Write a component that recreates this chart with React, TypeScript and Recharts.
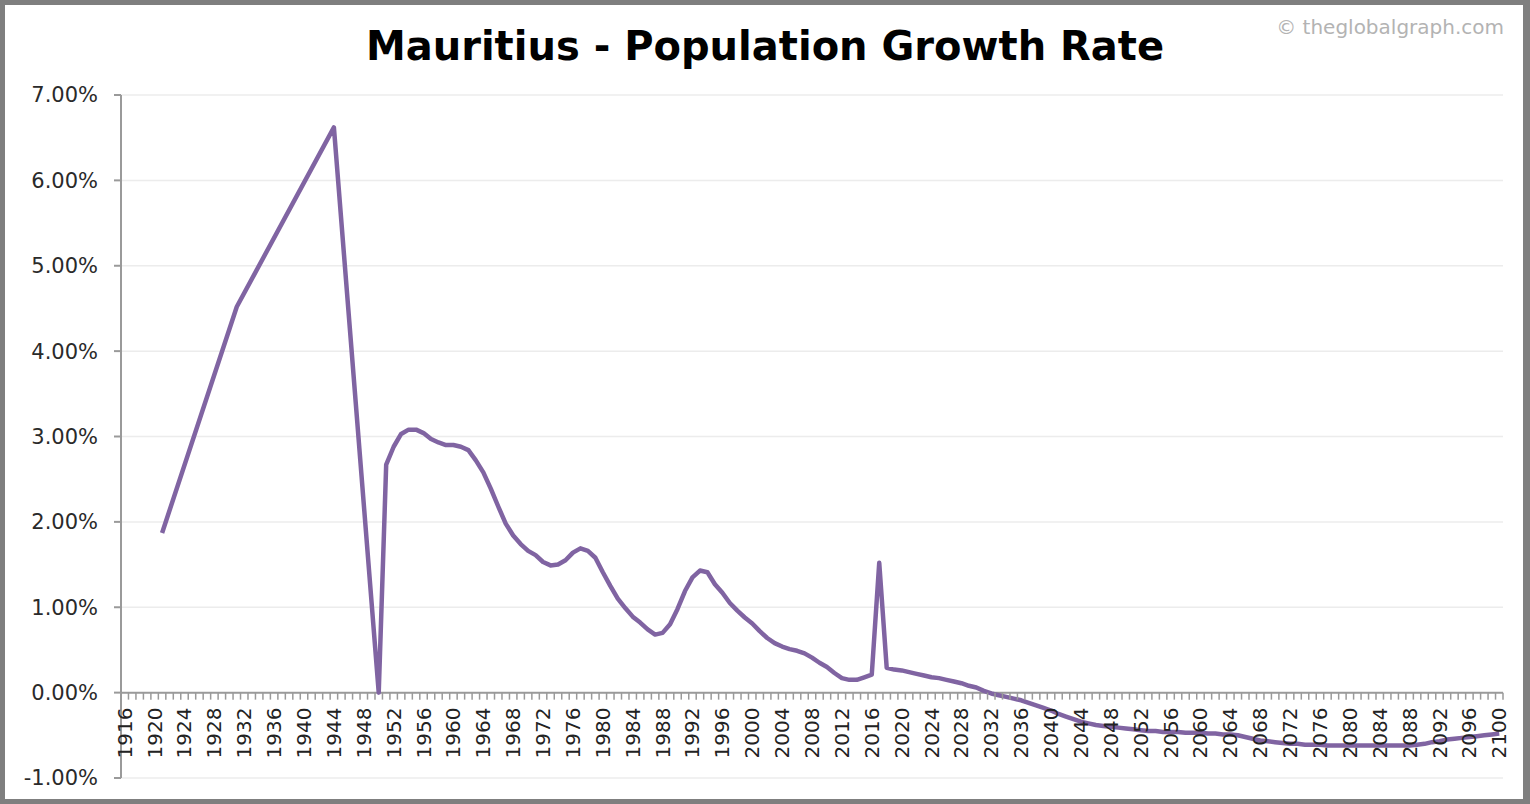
import React from 'react';
import { CartesianGrid, Line, LineChart, ReferenceLine, XAxis, YAxis } from 'recharts';

const W = 1530;
const H = 804;
const MARGIN = { top: 95, right: 27, bottom: 0, left: 0 };
const Y_AXIS_W = 121;
const X_AXIS_H = 26;

// sparse early census-style points
const earlyYears = [1921, 1931, 1944, 1950];
const earlyRates = [1.87, 4.52, 6.62, 0.0];

// yearly values from 1951 to 2100
const annualStart = 1951;
const annualRates = [
  2.67, 2.88, 3.03, 3.08, 3.08, 3.04, 2.97, 2.93, 2.9, 2.9,
  2.88, 2.84, 2.72, 2.58, 2.39, 2.18, 1.98, 1.84, 1.74, 1.66,
  1.61, 1.53, 1.49, 1.5, 1.55, 1.64, 1.69, 1.66, 1.58, 1.41,
  1.25, 1.1, 0.99, 0.89, 0.82, 0.74, 0.68, 0.7, 0.8, 0.98,
  1.19, 1.35, 1.43, 1.41, 1.27, 1.17, 1.05, 0.96, 0.88, 0.81,
  0.72, 0.64, 0.58, 0.54, 0.51, 0.49, 0.46, 0.41, 0.35, 0.3,
  0.23, 0.17, 0.15, 0.15, 0.18, 0.21, 1.52, 0.29, 0.27, 0.26,
  0.24, 0.22, 0.2, 0.18, 0.17, 0.15, 0.13, 0.11, 0.08, 0.06,
  0.02, -0.01, -0.03, -0.05, -0.07, -0.09, -0.12, -0.15, -0.18, -0.21,
  -0.25, -0.28, -0.31, -0.34, -0.36, -0.38, -0.39, -0.4, -0.41, -0.42,
  -0.43, -0.44, -0.45, -0.45, -0.46, -0.46, -0.46, -0.47, -0.47, -0.47,
  -0.48, -0.48, -0.49, -0.49, -0.5, -0.52, -0.54, -0.56, -0.57, -0.58,
  -0.59, -0.6, -0.6, -0.61, -0.61, -0.61, -0.62, -0.62, -0.62, -0.62,
  -0.62, -0.62, -0.62, -0.62, -0.62, -0.62, -0.62, -0.62, -0.61, -0.6,
  -0.58, -0.57, -0.55, -0.54, -0.53, -0.52, -0.51, -0.5, -0.49, -0.48,
];

const yTicks = [-1, 0, 1, 2, 3, 4, 5, 6, 7];
const xDomain = [1915.5, 2100.5];
const xTicks = Array.from({ length: 185 }, (_, i) => 1916 + i);

const data = [
  ...earlyYears.map((year, i) => ({ year, rate: earlyRates[i] })),
  ...annualRates.map((rate, i) => ({ year: annualStart + i, rate })),
];

const plotW = W - MARGIN.left - MARGIN.right - Y_AXIS_W;
const plotH = H - MARGIN.top - MARGIN.bottom - X_AXIS_H;
const step = plotW / (xDomain[1] - xDomain[0]);
const zeroY = MARGIN.top + (plotH * yTicks[yTicks.length - 1]) / (yTicks[yTicks.length - 1] - yTicks[0]);

const axisGray = '#9a9a9a';

function YearTick(props: any) {
  const { x, payload } = props;
  const year = payload.value;
  const ly = zeroY + 15;
  return (
    <g>
      <line x1={x - step / 2} x2={x - step / 2} y1={zeroY} y2={zeroY + 7} stroke={axisGray} strokeWidth={1.5} />
      {year === 2100 && (
        <line x1={x + step / 2} x2={x + step / 2} y1={zeroY} y2={zeroY + 7} stroke={axisGray} strokeWidth={1.5} />
      )}
      {year % 4 === 0 && (
        <text
          x={x}
          y={ly}
          transform={`rotate(-90 ${x} ${ly})`}
          textAnchor='end'
          dominantBaseline='central'
          fontSize={20}
          fontFamily='DejaVu Sans'
          fill='#222'
        >
          {year}
        </text>
      )}
    </g>
  );
}

export default function App() {
  return (
    <div style={{ position: 'absolute', left: 0, top: 0, width: W, height: H, background: '#fff' }}>
      <LineChart width={W} height={H} data={data} margin={MARGIN}>
        <CartesianGrid horizontal vertical={false} stroke='#ececec' strokeWidth={1.5} />
        <XAxis
          dataKey='year'
          type='number'
          domain={xDomain}
          ticks={xTicks}
          interval={0}
          height={X_AXIS_H}
          axisLine={false}
          tickLine={false}
          tickSize={0}
          tickMargin={0}
          tick={<YearTick />}
        />
        <YAxis
          width={Y_AXIS_W}
          domain={[-1, 7]}
          ticks={yTicks}
          interval={0}
          tickFormatter={(v: number) => `${v.toFixed(2)}%`}
          tick={{ fontSize: 21, fontFamily: 'DejaVu Sans', fill: '#2a2a2a' }}
          tickSize={7}
          tickMargin={16}
          axisLine={{ stroke: axisGray, strokeWidth: 2 }}
          tickLine={{ stroke: axisGray, strokeWidth: 2 }}
        />
        <ReferenceLine y={0} stroke={axisGray} strokeWidth={2} />
        <Line
          dataKey='rate'
          type='linear'
          stroke='#8064a2'
          strokeWidth={4.5}
          strokeLinejoin='round'
          dot={false}
          activeDot={false}
          isAnimationActive={false}
        />
      </LineChart>
      <div
        style={{
          position: 'absolute',
          left: 0,
          top: 21,
          width: W,
          textAlign: 'center',
          fontFamily: 'DejaVu Sans',
          fontWeight: 'bold',
          fontSize: 40,
          lineHeight: '50px',
          color: '#000',
        }}
      >
        Mauritius - Population Growth Rate
      </div>
      <div
        style={{
          position: 'absolute',
          right: 26,
          top: 13,
          fontFamily: 'DejaVu Sans',
          fontSize: 20,
          lineHeight: '28px',
          color: '#b3b3b3',
        }}
      >
        © theglobalgraph.com
      </div>
      <div
        style={{
          position: 'absolute',
          left: 0,
          top: 0,
          width: W,
          height: H,
          boxSizing: 'border-box',
          borderStyle: 'solid',
          borderColor: '#7f7f7f',
          borderWidth: '5px 7px 5px 5px',
          pointerEvents: 'none',
        }}
      />
    </div>
  );
}
